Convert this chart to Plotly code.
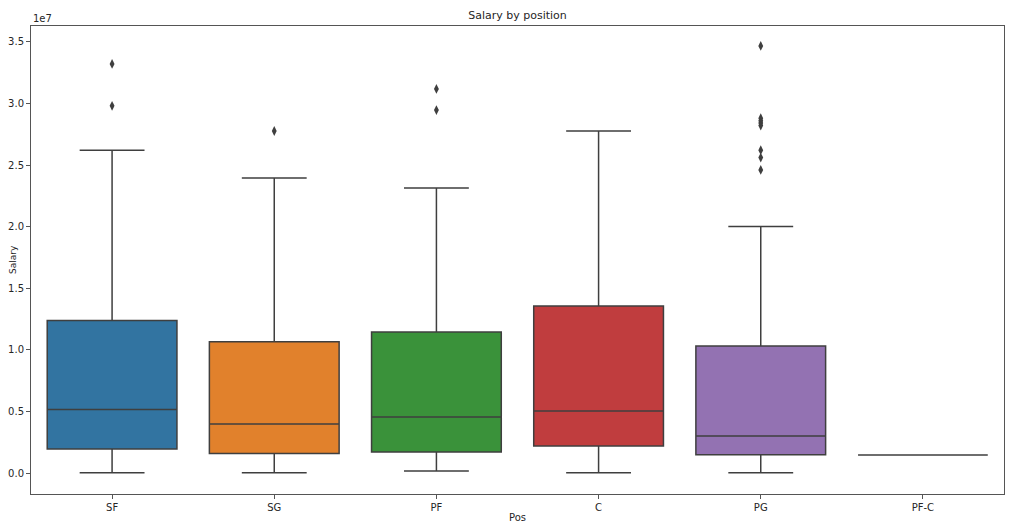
import plotly.graph_objects as go

positions = ["SF", "SG", "PF", "C", "PG", "PF-C"]
q1 = [0.195e7, 0.158e7, 0.170e7, 0.219e7, 0.148e7, 0.146e7]
median = [0.515e7, 0.398e7, 0.455e7, 0.503e7, 0.300e7, 0.146e7]
q3 = [1.238e7, 1.066e7, 1.144e7, 1.355e7, 1.031e7, 0.146e7]
lower_whisker = [0.003e7, 0.003e7, 0.016e7, 0.003e7, 0.003e7, 0.146e7]
upper_whisker = [2.620e7, 2.394e7, 2.313e7, 2.776e7, 2.000e7, 0.146e7]
outlier_pos = ["SF", "SF", "SG", "PF", "PF",
               "PG", "PG", "PG", "PG", "PG", "PG", "PG", "PG"]
outlier_val = [3.32e7, 2.98e7, 2.776e7, 3.117e7, 2.946e7,
               3.466e7, 2.88e7, 2.86e7, 2.84e7, 2.82e7, 2.62e7, 2.56e7, 2.46e7]
colors = ["#3274a1", "#e1812c", "#3a923a", "#c03d3e", "#9372b2", "#845b53"]
yticks = [0, 0.5e7, 1.0e7, 1.5e7, 2.0e7, 2.5e7, 3.0e7, 3.5e7]
ytick_text = ["0.0", "0.5", "1.0", "1.5", "2.0", "2.5", "3.0", "3.5"]

line_col = "#3f3f3f"
fig = go.Figure()
for i, p in enumerate(positions):
    fig.add_trace(go.Box(
        x=[p], q1=[q1[i]], median=[median[i]], q3=[q3[i]],
        lowerfence=[lower_whisker[i]], upperfence=[upper_whisker[i]],
        width=0.8,
        fillcolor=colors[i], line=dict(color=line_col, width=1.5),
        whiskerwidth=0.5, boxpoints=False, showlegend=False, hoverinfo="skip",
    ))

fig.add_trace(go.Scatter(
    x=outlier_pos, y=outlier_val, mode="markers",
    marker=dict(symbol="diamond-tall", size=7, color=line_col),
    showlegend=False, hoverinfo="skip",
))

font = dict(family="DejaVu Sans", size=10, color="#262626")
fig.update_layout(
    width=1015, height=516,
    margin=dict(l=23, r=19, t=18, b=30),
    paper_bgcolor="white", plot_bgcolor="white",
    font=font,
    boxmode="overlay",
    title=dict(text="Salary by position", x=(23 + 973 / 2) / 1015, xanchor="center",
               y=1 - 7 / 516, yanchor="middle", font=dict(family="DejaVu Sans", size=11, color="#262626")),
)
fig.update_xaxes(
    type="category", categoryorder="array", categoryarray=positions,
    range=[-0.5, 5.5], showline=True, mirror=True, linecolor="#555", linewidth=1,
    ticks="outside", ticklen=4, tickcolor="#555", showgrid=False, zeroline=False,
    tickfont=font, automargin=False,
)
fig.update_yaxes(
    range=[-0.17e7, 3.628e7], tickvals=yticks, ticktext=ytick_text,
    showline=True, mirror=True, linecolor="#555", linewidth=1,
    ticks="outside", ticklen=4, tickcolor="#555", showgrid=False, zeroline=False,
    tickfont=font, automargin=False,
)
fig.add_annotation(text="1e7", xref="paper", yref="paper", x=0.0, y=1.0,
                   xanchor="left", yanchor="bottom", showarrow=False, font=font)
fig.add_annotation(text="Salary", xref="paper", yref="paper", x=-18 / 973, y=0.5,
                   textangle=-90, xanchor="center", yanchor="middle", showarrow=False,
                   font=dict(family="DejaVu Sans", size=9, color="#262626"))
fig.add_annotation(text="Pos", xref="paper", yref="paper", x=0.5, y=-16 / 468,
                   xanchor="center", yanchor="top", showarrow=False, font=font)
fig.write_html("out.html")
